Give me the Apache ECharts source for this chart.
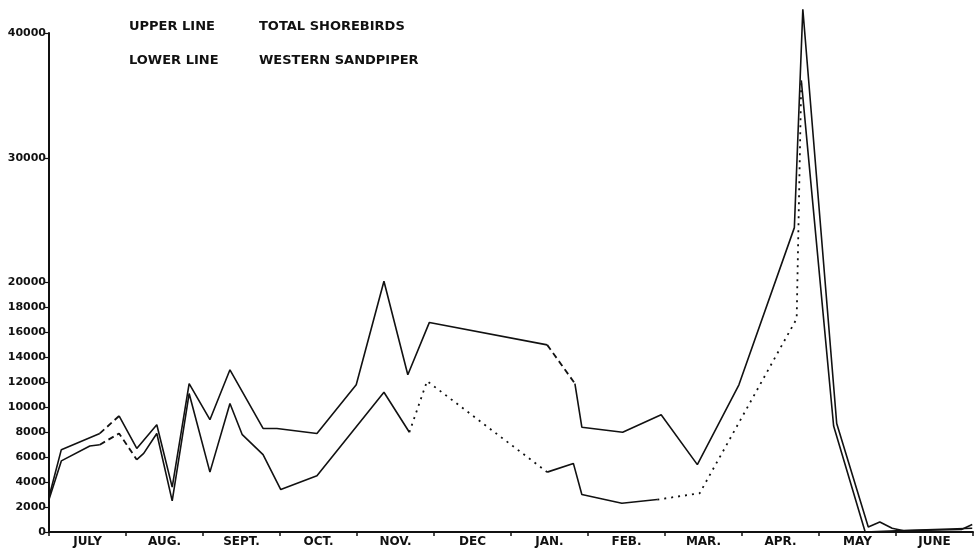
<!DOCTYPE html>
<html>
<head>
<meta charset="utf-8">
<script src="https://cdn.jsdelivr.net/npm/echarts@6/dist/echarts.min.js"></script>
<style>
  html, body { margin: 0; padding: 0; background: #fff; }
  #chart { width: 980px; height: 550px; }
</style>
</head>
<body>
<div id="chart"></div>
<script>
// months, July to June
const months = ["JULY", "AUG.", "SEPT.", "OCT.", "NOV.", "DEC", "JAN.", "FEB.", "MAR.", "APR.", "MAY", "JUNE"];

// y axis labels that are printed
const yTicks = [0, 2000, 4000, 6000, 8000, 10000, 12000, 14000, 16000, 18000, 20000, 30000, 40000];

// upper line: total shorebirds (x in months from July 1)
const upperMonths = [0.00, 0.16, 0.66, 0.91, 1.14, 1.40, 1.60, 1.82, 2.09, 2.35, 2.78, 2.96, 3.48, 3.99, 4.35, 4.66, 4.94,
  6.47, 6.83, 6.92, 7.45, 7.95, 8.42, 8.96, 9.68, 9.79, 10.23, 10.64, 10.79, 10.95, 11.10, 11.85, 11.99];
const upperValues = [2800, 6600, 7900, 9300, 6700, 8600, 3600, 11900, 9000, 13000, 8300, 8300, 7900, 11800, 20100, 12600, 16800,
  15000, 11900, 8400, 8000, 9400, 5400, 11800, 24400, 41900, 8700, 400, 800, 300, 100, 200, 600];
// segment i joins point i and i+1
const upperDashed = [2, 17];

// lower line: western sandpiper
const lowerMonths = [0.00, 0.16, 0.53, 0.66, 0.91, 1.14, 1.23, 1.40, 1.60, 1.82, 2.09, 2.35, 2.51, 2.78, 3.01, 3.48, 4.35, 4.68,
  4.91, 6.47, 6.81, 6.92, 7.44, 7.90, 8.45, 9.71, 9.77, 10.19, 10.60, 11.00, 11.99];
const lowerValues = [2600, 5700, 6900, 7000, 7900, 5800, 6300, 7900, 2500, 11100, 4800, 10300, 7800, 6200, 3400, 4500, 11200, 8000,
  12100, 4800, 5500, 3000, 2300, 2600, 3100, 17100, 36200, 8500, 0, 100, 300];
const lowerDashed = [3, 4];
const lowerDotted = [17, 18, 23, 24, 25];

const INK = "#111";

// split a line into runs that share one line style
function segments(xs, ys, dashed, dotted) {
  const styleOf = i => dotted.includes(i) ? "dotted" : dashed.includes(i) ? "dashed" : "solid";
  const out = [];
  let cur = null;
  for (let i = 0; i < xs.length - 1; i++) {
    const s = styleOf(i);
    if (!cur || cur.style !== s) {
      cur = { style: s, data: [[xs[i], ys[i]]] };
      out.push(cur);
    }
    cur.data.push([xs[i + 1], ys[i + 1]]);
  }
  return out.map(seg => ({
    type: "line",
    xAxisIndex: 1,
    data: seg.data,
    symbol: "none",
    clip: false,
    silent: true,
    lineStyle: {
      color: INK,
      width: seg.style === "solid" ? 1.6 : 1.8,
      type: seg.style === "solid" ? "solid" : seg.style === "dashed" ? [6, 4] : [2, 5]
    }
  }));
}

const chart = echarts.init(document.getElementById("chart"));
const font = { fontFamily: "DejaVu Sans", fontWeight: "bold" };

chart.setOption({
  animation: false,
  backgroundColor: "#fff",
  grid: { left: 49, right: 7, top: 33, bottom: 18 },
  xAxis: [{
    type: "category",
    data: months,
    boundaryGap: true,
    axisLine: { lineStyle: { color: INK, width: 2 } },
    axisTick: { show: true, length: 4, lineStyle: { color: INK, width: 1.5 } },
    axisLabel: Object.assign({ fontSize: 12, margin: 4, color: INK }, font),
    splitLine: { show: false }
  }, {
    type: "value",
    min: 0,
    max: 12,
    show: false
  }],
  yAxis: {
    type: "value",
    min: 0,
    max: 40000,
    axisLine: { show: true, lineStyle: { color: INK, width: 2 } },
    axisTick: { show: true, length: 4, customValues: yTicks, lineStyle: { color: INK, width: 1.2 } },
    axisLabel: Object.assign({ fontSize: 11, margin: 3, color: INK, customValues: yTicks, formatter: v => String(v) }, font),
    splitLine: { show: false }
  },
  graphic: [
    { type: "text", left: 129, top: 20, style: Object.assign({ text: "UPPER LINE", fontSize: 13, fill: INK }, font) },
    { type: "text", left: 259, top: 20, style: Object.assign({ text: "TOTAL SHOREBIRDS", fontSize: 13, fill: INK }, font) },
    { type: "text", left: 129, top: 54, style: Object.assign({ text: "LOWER LINE", fontSize: 13, fill: INK }, font) },
    { type: "text", left: 259, top: 54, style: Object.assign({ text: "WESTERN SANDPIPER", fontSize: 13, fill: INK }, font) }
  ],
  series: [
    ...segments(upperMonths, upperValues, upperDashed, []),
    ...segments(lowerMonths, lowerValues, lowerDashed, lowerDotted)
  ]
});
</script>
</body>
</html>
